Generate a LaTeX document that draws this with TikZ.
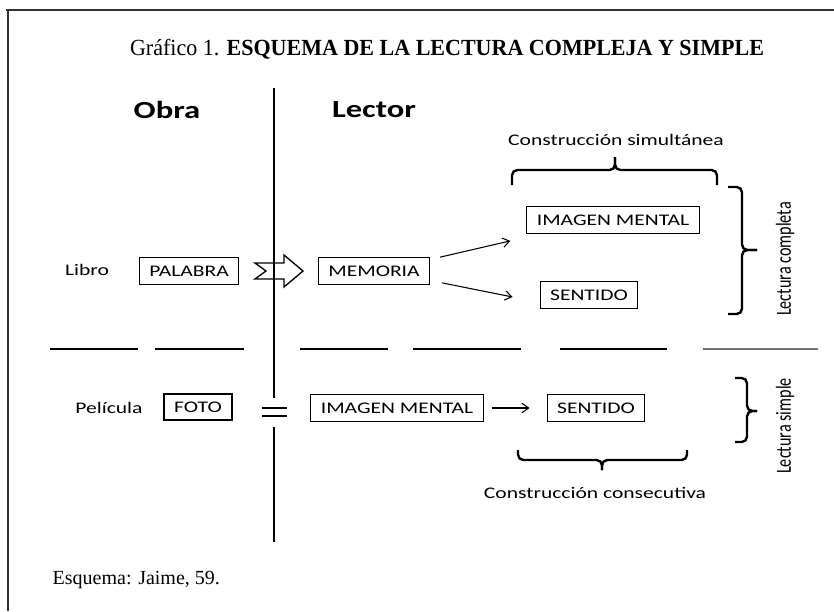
\documentclass[tikz,border=0pt]{standalone}
\usepackage{fontspec}
\usepackage{graphicx}
\setmainfont{Liberation Serif}
\newfontfamily\calib[FakeStretch=1.33]{Carlito}
\newfontfamily\calibdroit{Carlito}
\usetikzlibrary{arrows.meta}

\begin{document}
\begin{tikzpicture}[x=0.75pt,y=-0.75pt, % unités en pixels de l'image
  >={Straight Barb[length=5pt,width=7pt]},
  boite/.style={draw,line width=0.8pt,font=\calib\fontsize{12.15}{14}\selectfont,
    inner xsep=7.5pt,inner ysep=0pt,minimum height=20pt},
  etiq/.style={font=\calib\fontsize{12.15}{14}\selectfont},
  verti/.style={rotate=90},
  accolade/.style={line width=1.8pt,rounded corners=4pt}]

\useasboundingbox (0,0) rectangle (834,611);

% cadre
\draw[line width=1.5pt,black!80] (6,10) -- (834,10);
\draw[line width=1.5pt,black!80] (8,10) -- (8,611);

\node (titre) at (447,49) {\scalebox{0.955}[1]{\fontsize{17.3}{20}\selectfont Gráfico 1. \textbf{ESQUEMA DE LA LECTURA COMPLEJA Y SIMPLE}}};
\node[anchor=west] (source) at (48,580) {\fontsize{15}{18}\selectfont Esquema: Jaime, 59.};

\node[font=\calib\bfseries\fontsize{18.4}{22}\selectfont] (obra) at (167,110) {Obra};
\node[font=\calib\bfseries\fontsize{18.4}{22}\selectfont] (lector) at (374,110) {Lector};

% lecture complète
\node[etiq] (libro) at (87,270) {Libro};
\node[boite] (palabra) at (189,271) {PALABRA};
\node[boite] (memoria) at (374,271) {MEMORIA};
\node[boite] (imagen) at (613,220) {IMAGEN MENTAL};
\node[boite] (sentido) at (589,295) {SENTIDO};

\draw[line width=1pt] (255,263) -- (266,271) -- (255,279) -- (284,279) -- (284,287)
  -- (303,271) -- (284,255) -- (284,263) -- cycle; % grosse flèche

\draw[->,line width=0.8pt] ([shift={(10,0)}]memoria.north east) -- ([shift={(-16,7)}]imagen.south west);
\draw[->,line width=0.8pt] ([shift={(12,-2)}]memoria.south east) -- ([shift={(-27,2)}]sentido.west);

% séparation
\foreach \a/\b in {50/138,155/244,300/388,413/521,560/667}
{
	\draw[line width=0.9pt] (\a,349) -- (\b,349);
}
\draw[line width=1.6pt,black!55] (703,349) -- (818,349);

% lecture simple
\node[etiq] (pelicula) at (109,408) {Película};
\node[boite,line width=1.3pt] (foto) at (198,407) {FOTO};
\node[boite] (imagenb) at (397,408) {IMAGEN MENTAL};
\node[boite] (sentidob) at (596,408) {SENTIDO};
\draw[->,line width=0.8pt,shorten <=6pt,shorten >=12.75pt] (imagenb.east) -- (sentidob.west);

\draw[line width=2pt] (262,408) -- (287,408);
\draw[line width=2pt] (262,416) -- (287,416);

% axe vertical
\draw[line width=1pt] (274,88) -- (274,398);
\draw[line width=1pt] (274,427) -- (274,542);

% accolades
\draw[accolade] (512,185) |- (615,170) -- (615,157);
\draw[accolade] (717,185) |- (615,170) -- (615,157);
\node[etiq] (simul) at (616,140) {Construcción simultánea};

\draw[accolade] (728,187) -| (742,250) -- (757,250);
\draw[accolade] (728,314) -| (742,250) -- (757,250);
\node[verti] (completa) at (785,259) {\scalebox{1}[1.33]{\calibdroit\fontsize{12.15}{14}\selectfont Lectura completa}};

\draw[accolade] (735,378) -| (747,411) -- (757,411);
\draw[accolade] (735,442) -| (747,411) -- (757,411);
\node[verti] (simple) at (785,426) {\scalebox{1}[1.33]{\calibdroit\fontsize{12.15}{14}\selectfont Lectura simple}};

\draw[accolade] (518,450) |- (602,460) -- (602,470);
\draw[accolade] (687,450) |- (602,460) -- (602,470);
\node[etiq] (consec) at (595,493) {Construcción consecutiva};

\end{tikzpicture}
\end{document}
